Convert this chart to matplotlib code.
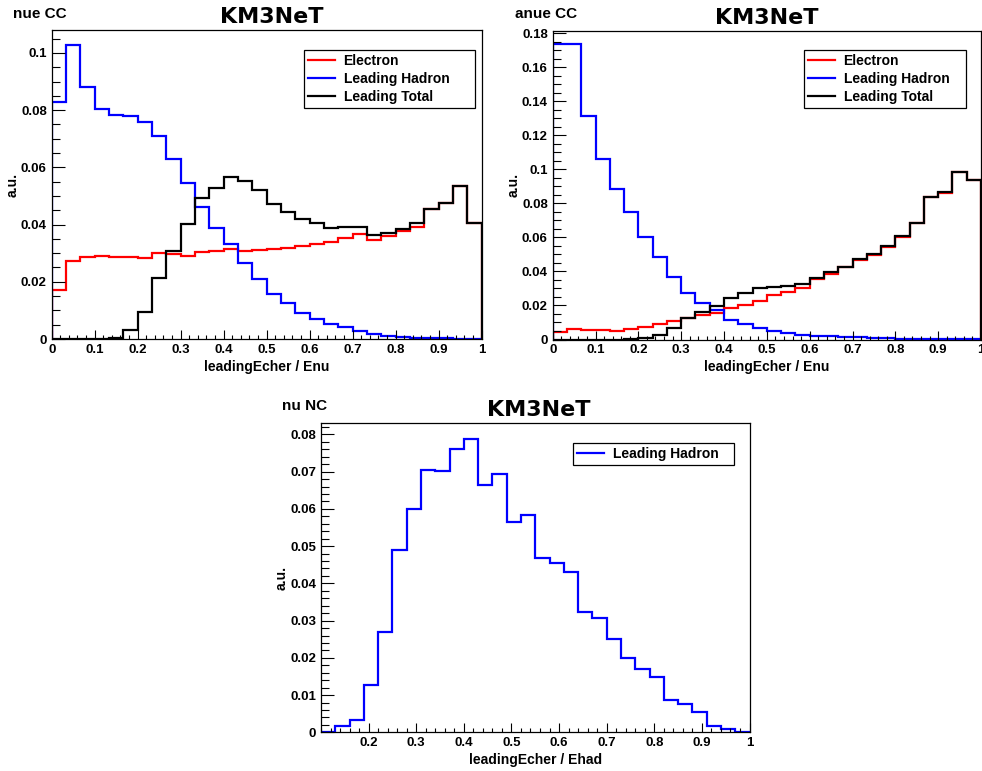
import numpy as np
import matplotlib
matplotlib.use("Agg")
import matplotlib.pyplot as plt
from matplotlib.ticker import MultipleLocator, FuncFormatter, FixedLocator

plt.rcParams['font.family'] = ['Liberation Sans', 'DejaVu Sans']
plt.rcParams['font.weight'] = 'bold'

# ---------------- data ----------------
cc_range = (0.0, 1.0)
nc_range = (0.1, 1.0)
n_bins = 30

nue_cc_electron = [0.0171, 0.0274, 0.0286, 0.0290, 0.0288, 0.0287, 0.0283, 0.0300, 0.0296, 0.0290,
                   0.0305, 0.0308, 0.0316, 0.0309, 0.0311, 0.0314, 0.0319, 0.0326, 0.0331, 0.0340,
                   0.0354, 0.0366, 0.0346, 0.0360, 0.0378, 0.0393, 0.0453, 0.0474, 0.0536, 0.0404]
nue_cc_hadron = [0.0830, 0.1028, 0.0880, 0.0803, 0.0783, 0.0780, 0.0758, 0.0710, 0.0628, 0.0544,
                 0.0460, 0.0387, 0.0331, 0.0267, 0.0210, 0.0156, 0.0127, 0.0092, 0.0069, 0.0052,
                 0.0041, 0.0029, 0.0017, 0.0010, 0.0007, 0.0004, 0.0003, 0.0002, 0.0001, 0.0001]
nue_cc_total = [0.0, 0.0, 0.0, 0.0001, 0.0005, 0.0031, 0.0093, 0.0212, 0.0309, 0.0402,
                0.0492, 0.0527, 0.0567, 0.0552, 0.0521, 0.0471, 0.0445, 0.0419, 0.0404, 0.0387,
                0.0393, 0.0391, 0.0364, 0.0370, 0.0383, 0.0404, 0.0453, 0.0474, 0.0536, 0.0404]

anue_cc_electron = [0.0046, 0.0062, 0.0056, 0.0056, 0.0052, 0.0060, 0.0075, 0.0089, 0.0111, 0.0128,
                    0.0144, 0.0158, 0.0187, 0.0203, 0.0228, 0.0262, 0.0281, 0.0301, 0.0354, 0.0384,
                    0.0425, 0.0468, 0.0497, 0.0546, 0.0605, 0.0684, 0.0836, 0.0864, 0.0984, 0.0938]
anue_cc_hadron = [0.1736, 0.1736, 0.1315, 0.1060, 0.0884, 0.0748, 0.0605, 0.0484, 0.0370, 0.0276,
                  0.0213, 0.0174, 0.0115, 0.0089, 0.0066, 0.0052, 0.0036, 0.0026, 0.0022, 0.0019,
                  0.0015, 0.0012, 0.0010, 0.0008, 0.0005, 0.0004, 0.0003, 0.0002, 0.0002, 0.0001]
anue_cc_total = [0.0, 0.0, 0.0, 0.0, 0.0, 0.0001, 0.0006, 0.0026, 0.0066, 0.0125,
                 0.0164, 0.0197, 0.0242, 0.0272, 0.0301, 0.0307, 0.0315, 0.0325, 0.0360, 0.0399,
                 0.0428, 0.0472, 0.0503, 0.0550, 0.0609, 0.0687, 0.0836, 0.0868, 0.0984, 0.0938]

nu_nc_hadron = [0.0, 0.0018, 0.0033, 0.0126, 0.0270, 0.0489, 0.0599, 0.0704, 0.0701, 0.0761,
                0.0789, 0.0665, 0.0693, 0.0565, 0.0583, 0.0467, 0.0456, 0.0430, 0.0322, 0.0306,
                0.0250, 0.0199, 0.0169, 0.0149, 0.0087, 0.0076, 0.0055, 0.0018, 0.0008, 0.0001]

panel_labels = ["nue CC", "anue CC", "nu NC"]
title_text = "KM3NeT"
series_names = ["Electron", "Leading Hadron", "Leading Total"]
xlabels = ["leadingEcher / Enu", "leadingEcher / Enu", "leadingEcher / Ehad"]
ylabel = "a.u."

# ---------------- layout ----------------
W, H = 982, 771
fig = plt.figure(figsize=(W / 100, H / 100), dpi=100)


def rect(l, r, t, b):
    return [l / W, 1 - b / H, (r - l) / W, (b - t) / H]


def fmt(v, pos):
    return "%g" % round(v, 6)


def style_axis(ax, wpx, hpx, xmaj, xmin_, ymaj, ymin_, xlab):
    for sp in ax.spines.values():
        sp.set_linewidth(0.9)
        sp.set_color('black')
    ax.xaxis.set_major_locator(xmaj)
    ax.xaxis.set_minor_locator(MultipleLocator(xmin_))
    ax.yaxis.set_major_locator(MultipleLocator(ymaj))
    ax.yaxis.set_minor_locator(MultipleLocator(ymin_))
    ax.xaxis.set_major_formatter(FuncFormatter(fmt))
    ax.yaxis.set_major_formatter(FuncFormatter(fmt))
    ax.tick_params(axis='x', which='major', direction='in', length=6.5, width=0.8,
                   pad=3.5, labelsize=9.5, top=False)
    ax.tick_params(axis='x', which='minor', direction='in', length=3.2, width=0.8, top=False)
    ax.tick_params(axis='y', which='major', direction='in', length=9, width=0.8,
                   pad=3.5, labelsize=9.5, right=False)
    ax.tick_params(axis='y', which='minor', direction='in', length=5.4, width=0.8, right=False)
    for lab in ax.get_xticklabels() + ax.get_yticklabels():
        lab.set_fontweight('bold')
    ax.set_xlabel(xlab, fontsize=10, fontweight='bold', va='center', ha='center')
    ax.xaxis.set_label_coords(0.5, -28 / hpx)
    ax.set_ylabel(ylabel, fontsize=10, fontweight='bold', va='center', ha='center')
    ax.yaxis.set_label_coords(-39 / wpx, 0.5)


def add_legend(ax, handles, labels, l, r, t, b):
    leg = ax.legend(handles, labels, loc='upper left', mode='expand',
                    bbox_to_anchor=(l / W, 1 - b / H, (r - l) / W, (b - t) / H),
                    bbox_transform=fig.transFigure, borderaxespad=0,
                    handlelength=1.9, handletextpad=0.65,
                    borderpad=0.3, labelspacing=0.28, fancybox=False,
                    framealpha=1, edgecolor='black', prop={'weight': 'bold', 'size': 10})
    leg.get_frame().set_linewidth(0.9)
    return leg


edges_cc = np.linspace(cc_range[0], cc_range[1], n_bins + 1)
edges_nc = np.linspace(nc_range[0], nc_range[1], n_bins + 1)
lw = 1.6

# ---- panel 1: nue CC ----
p1 = (51.7, 481.5, 30, 339)
ax1 = fig.add_axes(rect(*p1))
h_e = ax1.stairs(nue_cc_electron, edges_cc, color='#ff0000', lw=lw)
h_h = ax1.stairs(nue_cc_hadron, edges_cc, color='#0000ff', lw=lw)
h_t = ax1.stairs(nue_cc_total, edges_cc, color='black', lw=lw)
ax1.set_xlim(*cc_range)
ax1.set_ylim(0, 0.108)
style_axis(ax1, p1[1] - p1[0], p1[3] - p1[2], MultipleLocator(0.1), 0.02, 0.02, 0.005, xlabels[0])
add_legend(ax1, [h_e, h_h, h_t], series_names, 304, 475, 50, 108)

# ---- panel 2: anue CC ----
p2 = (552.7, 981, 30.7, 339.5)
ax2 = fig.add_axes(rect(*p2))
g_e = ax2.stairs(anue_cc_electron, edges_cc, color='#ff0000', lw=lw)
g_h = ax2.stairs(anue_cc_hadron, edges_cc, color='#0000ff', lw=lw)
g_t = ax2.stairs(anue_cc_total, edges_cc, color='black', lw=lw)
ax2.set_xlim(*cc_range)
ax2.set_ylim(0, 0.1816)
style_axis(ax2, p2[1] - p2[0], p2[3] - p2[2], MultipleLocator(0.1), 0.02, 0.02, 0.005, xlabels[1])
add_legend(ax2, [g_e, g_h, g_t], series_names, 804, 966, 50, 108)

# ---- panel 3: nu NC ----
p3 = (321, 749.5, 423.3, 732.3)
ax3 = fig.add_axes(rect(*p3))
k_h = ax3.stairs(nu_nc_hadron, edges_nc, color='#0000ff', lw=lw)
ax3.set_xlim(*nc_range)
ax3.set_ylim(0, 0.083)
style_axis(ax3, p3[1] - p3[0], p3[3] - p3[2],
           FixedLocator([0.2, 0.3, 0.4, 0.5, 0.6, 0.7, 0.8, 0.9, 1.0]), 0.02, 0.01, 0.002, xlabels[2])
add_legend(ax3, [k_h], [series_names[1]], 573, 734, 443, 473)

# ---- titles and panel labels ----
for (cx, base) in [(271.5, 23), (766.5, 23.5), (539, 416)]:
    fig.text(cx / W, 1 - base / H, title_text, ha='center', va='baseline',
             fontsize=16, fontweight='bold', family=['DejaVu Sans'])
for (lx, base), txt in zip([(13, 18.5), (515, 18.5), (282, 410)], panel_labels):
    fig.text(lx / W, 1 - base / H, txt, ha='left', va='baseline', fontsize=11, fontweight='bold')

fig.savefig("out.png", dpi=100)
